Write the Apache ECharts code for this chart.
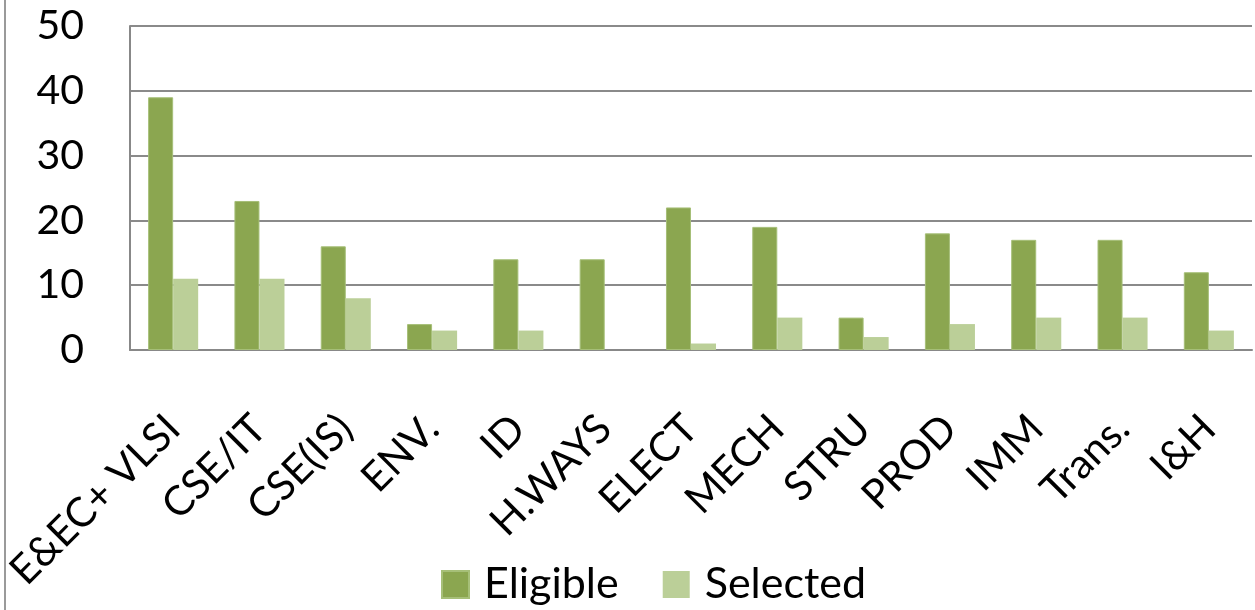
<!DOCTYPE html>
<html>
<head>
<meta charset="utf-8">
<script src="https://cdn.jsdelivr.net/npm/echarts@6/dist/echarts.min.js"></script>
<style>
  html, body { margin: 0; padding: 0; background: #fff; }
  #chart { width: 1255px; height: 610px; }
</style>
</head>
<body>
<div id="chart"></div>
<script>
const categories = ['E&EC+ VLSI', 'CSE/IT', 'CSE(IS)', 'ENV.', 'ID', 'H.WAYS', 'ELECT', 'MECH', 'STRU', 'PROD', 'IMM', 'Trans.', 'I&H'];
const eligible = [39, 23, 16, 4, 14, 14, 22, 19, 5, 18, 17, 17, 12];
const selected = [11, 11, 8, 3, 3, 0, 1, 5, 2, 4, 5, 5, 3];

const FONT = 'Lato, "Open Sans", sans-serif';

const chart = echarts.init(document.getElementById('chart'));

const option = {
  animation: false,
  textStyle: { fontFamily: FONT },
  graphic: [
    {
      // outer chart border on the left
      type: 'line',
      shape: { x1: 5, y1: 0, x2: 5, y2: 610 },
      style: { stroke: '#9a9a9a', lineWidth: 2 },
    },
  ],
  grid: { left: 130, right: 3, top: 26, bottom: 260 },
  legend: {
    top: 563,
    left: 441,
    padding: 0,
    itemWidth: 27,
    itemHeight: 27,
    itemGap: 44,
    icon: 'rect',
    textStyle: { fontSize: 43, color: '#000', fontFamily: FONT, padding: [0, 0, 0, 10] },
    data: ['Eligible', 'Selected'],
  },
  xAxis: {
    type: 'category',
    data: categories,
    axisLine: { lineStyle: { color: '#888', width: 2 } },
    axisTick: { show: false },
    axisLabel: {
      rotate: 45,
      interval: 0,
      margin: 72,
      fontSize: 41,
      color: '#000',
      fontFamily: FONT,
    },
  },
  yAxis: {
    type: 'value',
    min: 0,
    max: 50,
    interval: 10,
    axisLine: { show: true, lineStyle: { color: '#888', width: 2 } },
    axisTick: { show: false },
    splitLine: { lineStyle: { color: '#8a8a8a', width: 2 } },
    axisLabel: { fontSize: 41, color: '#000', margin: 46, fontFamily: FONT },
  },
  series: [
    {
      name: 'Eligible',
      type: 'bar',
      data: eligible,
      barGap: '0%',
      barCategoryGap: '42%',
      itemStyle: { color: '#8ba650', borderColor: '#a6bf78', borderWidth: 1 },
    },
    {
      name: 'Selected',
      type: 'bar',
      data: selected,
      itemStyle: { color: '#bbcf98' },
    },
  ],
};

chart.setOption(option);
</script>
</body>
</html>
